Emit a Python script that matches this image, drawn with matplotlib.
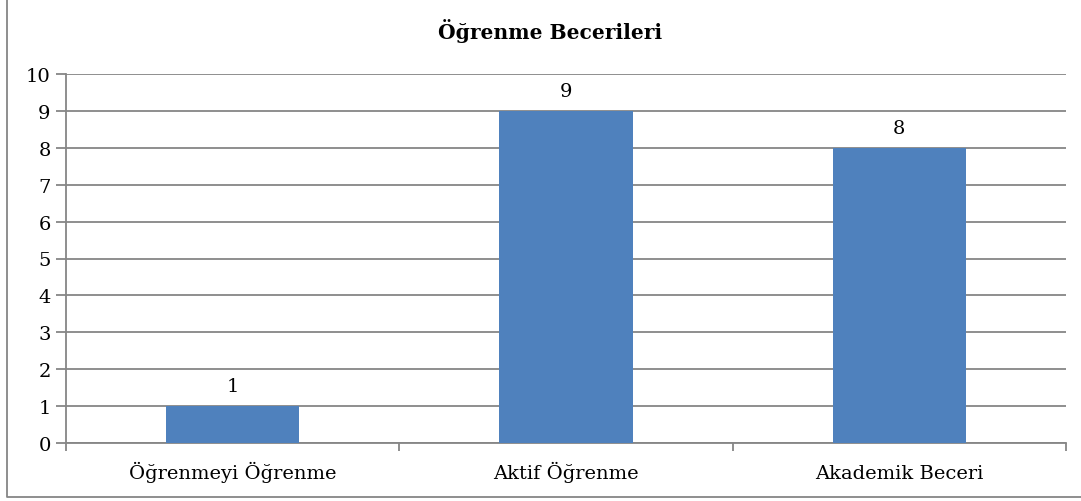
import matplotlib.pyplot as plt
from matplotlib.lines import Line2D

# data
categories = ['Öğrenmeyi Öğrenme', 'Aktif Öğrenme', 'Akademik Beceri']
values = [1, 9, 8]
title = 'Öğrenme Becerileri'

plt.rcParams['font.family'] = ['DejaVu Serif']

W, H = 1081, 502
fs = 14
grey = '#868686'
fig = plt.figure(figsize=(W / 100, H / 100), dpi=100)
ax = fig.add_axes([66 / W, 1 - 444 / H, (1066 - 66) / W, (444 - 75) / H])

x = list(range(len(categories)))
ax.bar(x, values, width=0.4, color='#4F81BD', zorder=3)
for xi, v in zip(x, values):
    ax.annotate(str(v), (xi, v), xytext=(0, 11), textcoords='offset points',
                ha='center', va='baseline', fontsize=fs)

ax.set_xlim(-0.5, len(categories) - 0.5)
ax.set_ylim(0, 10)
ax.set_yticks(range(0, 11))
ax.tick_params(axis='y', length=7, color=grey, width=1.3, labelsize=fs, pad=4)
ax.yaxis.grid(True, color=grey, linewidth=1.3)
ax.set_axisbelow(True)

# category names on a common baseline, ticks on the boundaries
ax.set_xticks([-0.5, 0.5, 1.5, 2.5])
ax.set_xticklabels([])
ax.tick_params(axis='x', length=6, color=grey, width=1.3)
for xi, name in zip(x, categories):
    ax.annotate(name, (xi, 0), xytext=(0, -25.5), textcoords='offset points',
                ha='center', va='baseline', fontsize=fs, annotation_clip=False)

for side in ['top', 'right']:
    ax.spines[side].set_visible(False)
for side in ['left', 'bottom']:
    ax.spines[side].set_color(grey)
    ax.spines[side].set_linewidth(1.3)

fig.text(550 / W, 1 - 39 / H, title, ha='center', va='baseline',
         fontsize=14.6, fontweight='bold')

# chart frame: only the left and bottom edges show in the picture
fig.add_artist(Line2D([7 / W, 7 / W, 1], [1, 1 - 498 / H, 1 - 498 / H],
                      transform=fig.transFigure, color=grey, linewidth=1.3))

fig.savefig('out.png', dpi=100)
